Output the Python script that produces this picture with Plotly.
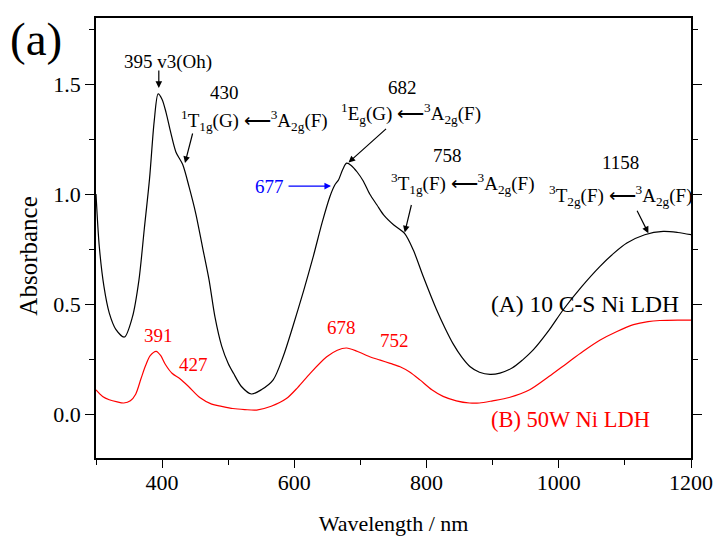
import plotly.graph_objects as go

# UV-Vis absorbance spectra of two Ni LDH samples
wl_a = [300, 305, 312, 320, 330, 343, 355, 365, 373, 381, 388, 394, 400, 406, 413,
        421, 431, 441, 451, 461, 471, 480, 490, 500, 508, 520, 535, 550, 568, 583,
        598, 614, 629, 642, 654, 661, 667, 673, 679, 686, 695, 704, 714, 725, 735,
        750, 767, 780, 795, 815, 828, 840, 853, 866, 880, 896, 911, 930, 945, 961,
        985, 1007, 1035, 1062, 1083, 1103, 1130, 1158, 1180, 1200]
abs_a = [1.00, 0.76, 0.58, 0.46, 0.385, 0.35, 0.44, 0.61, 0.84, 1.07, 1.33, 1.455, 1.43, 1.37, 1.28,
         1.19, 1.135, 1.03, 0.91, 0.76, 0.61, 0.44, 0.31, 0.23, 0.185, 0.125, 0.091, 0.11, 0.155, 0.26,
         0.40, 0.56, 0.72, 0.87, 0.99, 1.04, 1.065, 1.11, 1.14, 1.13, 1.10, 1.06, 1.00, 0.95, 0.905,
         0.86, 0.82, 0.745, 0.625, 0.475, 0.39, 0.32, 0.26, 0.215, 0.19, 0.18, 0.186, 0.21, 0.245, 0.29,
         0.38, 0.475, 0.58, 0.67, 0.73, 0.777, 0.815, 0.83, 0.825, 0.815]

wl_b = [300, 310, 320, 332, 342, 352, 360, 368, 375, 382, 391, 398, 405, 415, 427,
        440, 457, 475, 490, 507, 525, 543, 565, 588, 605, 624, 649, 665, 679, 695,
        714, 730, 745, 760, 775, 790, 808, 825, 845, 865, 880, 900, 925, 956, 985,
        1012, 1037, 1062, 1088, 1113, 1135, 1153, 1180, 1200]
abs_b = [0.11, 0.08, 0.065, 0.055, 0.05, 0.06, 0.09, 0.16, 0.22, 0.265, 0.285, 0.265, 0.225, 0.185, 0.16,
         0.125, 0.075, 0.045, 0.035, 0.025, 0.02, 0.018, 0.035, 0.07, 0.12, 0.185, 0.26, 0.29, 0.30, 0.285,
         0.26, 0.245, 0.23, 0.215, 0.19, 0.155, 0.11, 0.08, 0.06, 0.05, 0.05, 0.06, 0.075, 0.11, 0.17,
         0.23, 0.285, 0.335, 0.375, 0.406, 0.42, 0.425, 0.427, 0.427]

x_ticks = [400, 600, 800, 1000, 1200]
y_ticks = [0.0, 0.5, 1.0, 1.5]

FONT = "Liberation Serif"
# long leftwards arrow, drawn in a light weight
LARR = "<span style=\"font-family:'DejaVu Sans ExtraLight','DejaVu Sans';font-weight:200\">\u27f5</span>"

fig = go.Figure()
fig.add_trace(go.Scatter(x=wl_a, y=abs_a, mode="lines",
                         line=dict(color="black", width=1.2, shape="spline", smoothing=0.8),
                         showlegend=False, hoverinfo="skip"))
fig.add_trace(go.Scatter(x=wl_b, y=abs_b, mode="lines",
                         line=dict(color="#ff0000", width=1.2, shape="spline", smoothing=0.8),
                         showlegend=False, hoverinfo="skip"))

ann = []


def text(x, y, s, size=19, color="black", xanchor="center"):
    ann.append(dict(x=x, y=y, xref="x", yref="y", text=s, showarrow=False,
                    xanchor=xanchor, yanchor="middle",
                    font=dict(family=FONT, size=size, color=color)))


def arrow(x, y, ax, ay, color="black"):
    ann.append(dict(x=x, y=y, xref="x", yref="y", text="", showarrow=True,
                    ax=ax, ay=ay, axref="pixel", ayref="pixel",
                    arrowhead=2, arrowsize=1.1, arrowwidth=1.2, arrowcolor=color))


def transition(upper):
    return upper + " " + LARR + "<sup>3</sup>A<sub>2g</sub>(F)"


# peak assignments for sample (A)
text(409, 1.60, "395 v3(Oh)", size=19)
arrow(395, 1.482, 0, -19)
text(495, 1.46, "430")
text(539, 1.336, transition("<sup>1</sup>T<sub>1g</sub>(G)"))
arrow(434.6, 1.141, 8, -31)
text(764, 1.486, "682")
text(776.5, 1.368, transition("<sup>1</sup>E<sub>g</sub>(G)"))
arrow(682, 1.143, 39, -35)
text(832, 1.177, "758")
text(854, 1.05, transition("<sup>3</sup>T<sub>1g</sub>(F)"))
arrow(767, 0.825, 7, -29)
text(561.7, 1.036, "677", color="#0000ff")
arrow(655.5, 1.036, -44, 0, color="#0000ff")
text(1092.6, 1.141, "1158")
text(1092.6, 0.995, transition("<sup>3</sup>T<sub>2g</sub>(F)"))
arrow(1135.5, 0.822, -12, -24)

# peak positions for sample (B)
text(395, 0.359, "391", color="#ff0000")
text(448, 0.223, "427", color="#ff0000")
text(672, 0.391, "678", color="#ff0000")
text(752, 0.336, "752", color="#ff0000")

# sample labels
text(1040, 0.50, "(A) 10 C-S Ni LDH", size=23.5)
text(1018, -0.027, "(B) 50W Ni LDH", size=22.5, color="#ff0000")

# panel label
ann.append(dict(x=-0.101, y=0.952, xref="paper", yref="paper", text="(a)", showarrow=False,
                xanchor="center", yanchor="middle",
                font=dict(family=FONT, size=47, color="black")))

# y-axis title
ann.append(dict(x=-0.114, y=0.458, xref="paper", yref="paper", text="Absorbance", showarrow=False,
                textangle=-90, xanchor="center", yanchor="middle",
                font=dict(family=FONT, size=25, color="black")))

fig.update_layout(
    width=718, height=536,
    margin=dict(l=96, r=27, t=18, b=78),
    paper_bgcolor="white", plot_bgcolor="white",
    font=dict(family=FONT, size=22, color="black"),
    annotations=ann,
    xaxis=dict(range=[300, 1200], tickvals=x_ticks, ticks="outside", ticklen=8, tickwidth=1.2,
               tickcolor="black", showgrid=False, zeroline=False, automargin=False,
               showline=True, linecolor="black", linewidth=1.6, mirror=True,
               ticklabelstandoff=-4,
               minor=dict(dtick=100, tick0=300, ticks="outside", ticklen=5, tickwidth=1.2,
                          tickcolor="black", showgrid=False),
               tickfont=dict(family=FONT, size=22),
               title=dict(text="Wavelength / nm", font=dict(family=FONT, size=22), standoff=22)),
    yaxis=dict(range=[-0.2, 1.8], tickvals=y_ticks, tickformat=".1f", ticks="outside", ticklen=9,
               tickwidth=1.2, tickcolor="black", showgrid=False, zeroline=False, automargin=False,
               showline=True, linecolor="black", linewidth=1.6, mirror="ticks",
               minor=dict(dtick=0.25, tick0=0, ticks="outside", ticklen=5, tickwidth=1.2,
                          tickcolor="black", showgrid=False),
               tickfont=dict(family=FONT, size=22)),
)

fig.write_html("out.html")
